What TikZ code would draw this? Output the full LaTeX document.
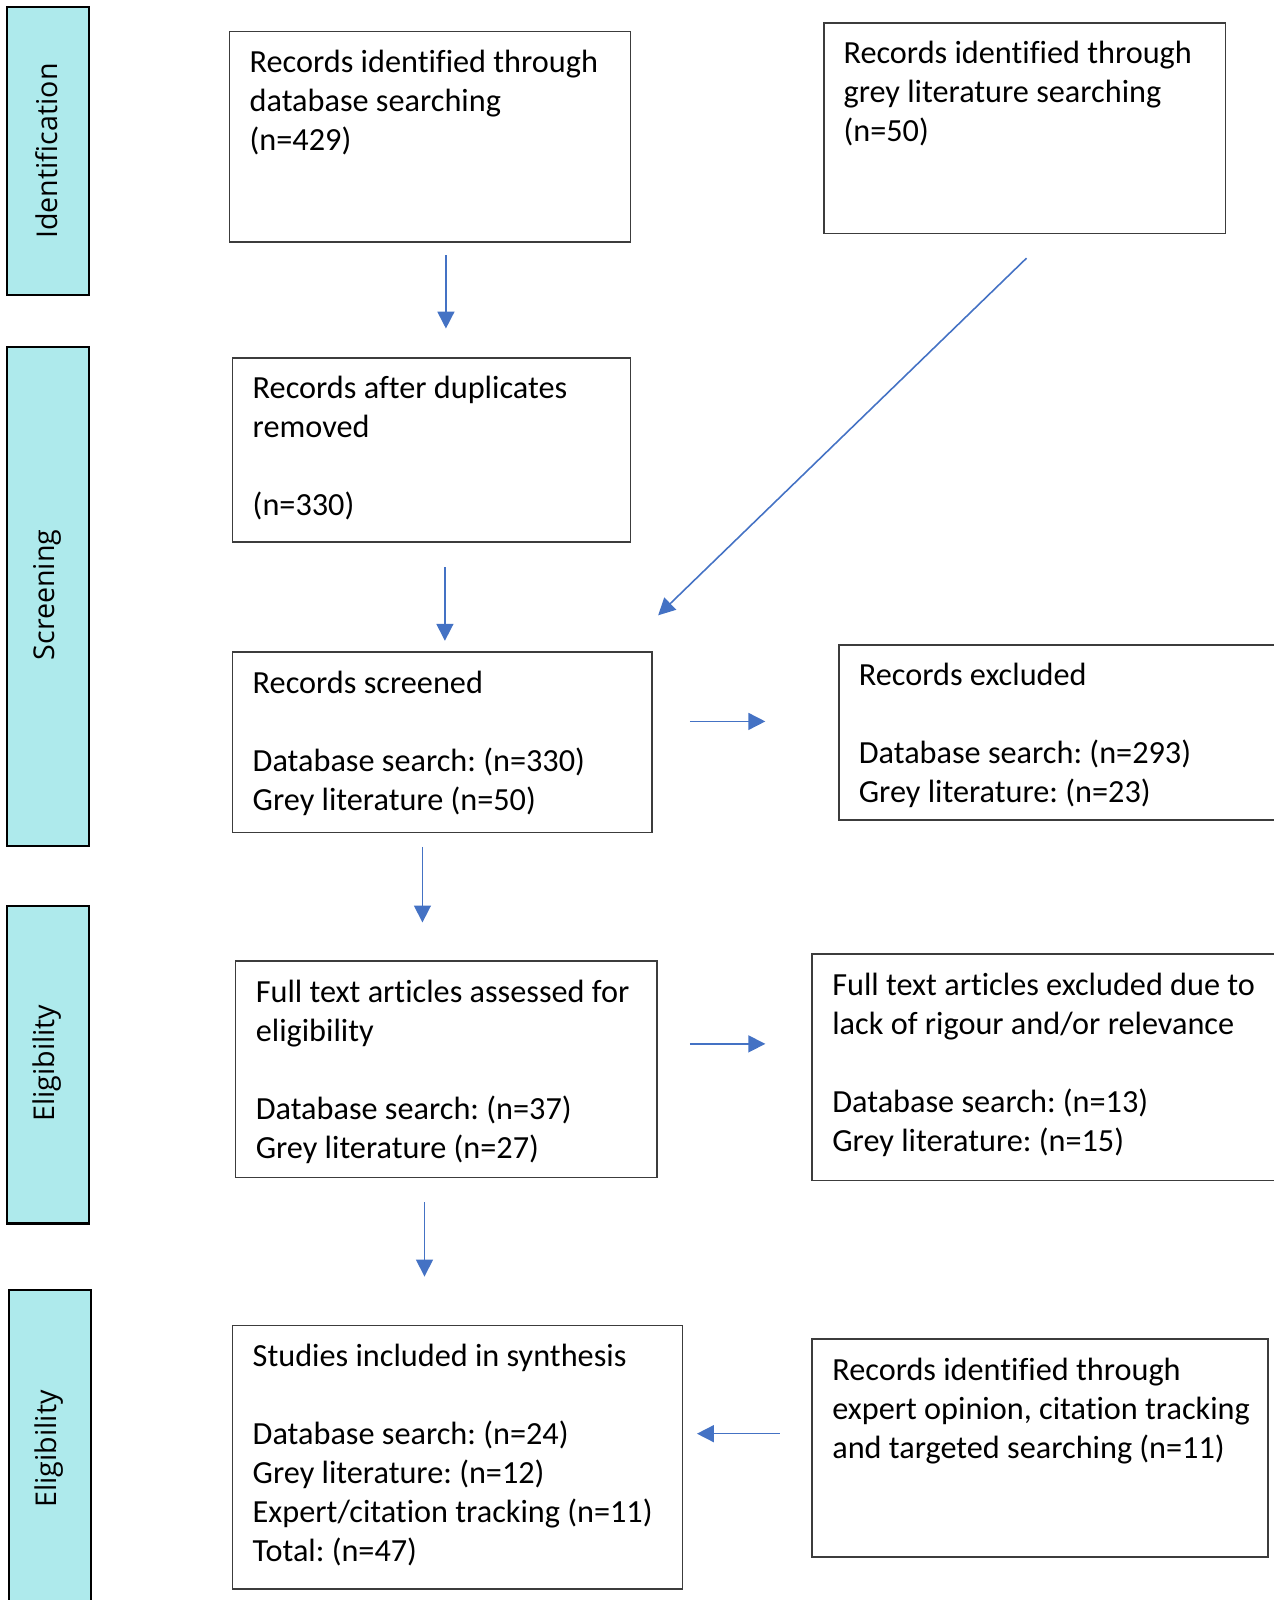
\documentclass[tikz,border=0pt]{standalone}
\usepackage{fontspec}
\setmainfont{Carlito}[Ligatures=CommonOff]
\newfontfamily\stagefont{Open Sans}
\usetikzlibrary{arrows.meta}
\frenchspacing
\definecolor{stagecyan}{RGB}{174,234,236}
\definecolor{flowblue}{RGB}{68,114,196}
\definecolor{boxgrey}{RGB}{60,60,60}
\def\pxu{0.010204cm}
\tikzset{
  stagebar/.style={draw=black, line width=0.6pt, fill=stagecyan, anchor=north west, inner sep=0pt},
  stagetext/.style={rotate=90, font=\stagefont\fontsize{8.15}{9}\selectfont, inner sep=0pt},
  flowbox/.style={draw=boxgrey, line width=0.5pt, anchor=north west, inner sep=0pt},
  boxtext/.style={anchor=north west, inner sep=0pt, align=left, execute at begin node=\strut,
    font=\fontsize{9.18}{11.1}\selectfont},
  flow/.style={draw=flowblue, line width=0.45pt, -{Triangle[width=4.8pt,length=4.8pt]}}
}
\begin{document}
\begin{tikzpicture}[x=\pxu,y=-\pxu]
\useasboundingbox (0,0) rectangle (1248.5,1568);
\clip (0,0) rectangle (1248.5,1568);
% stage bars on the left
\node[stagebar, minimum width=80*\pxu, minimum height=282*\pxu] (ident) at (6,6) {};
\node[stagebar, minimum width=80*\pxu, minimum height=489*\pxu] (screen) at (6,339) {};
\node[stagebar, minimum width=80*\pxu, minimum height=311*\pxu] (elig) at (6,887) {};
\node[stagebar, minimum width=80*\pxu, minimum height=330*\pxu] (incl) at (8,1263) {};
\node[stagetext] (identlab) at (46,148) {Identification};
\node[stagetext] (screenlab) at (46,583) {Screening};
\node[stagetext] (eliglab) at (46,1042) {Eligibility};
\node[stagetext] (incllab) at (48,1420) {Eligibility};
% boxes
\node[flowbox, minimum width=393*\pxu, minimum height=206*\pxu] (db) at (224,30) {};
\node[boxtext] (dbtext) at (244,48) {Records identified through\\database searching\\(n=429)};
\node[flowbox, minimum width=393*\pxu, minimum height=206*\pxu] (grey) at (807,22) {};
\node[boxtext] (greytext) at (826,40) {Records identified through\\grey literature searching\\(n=50)};
\node[flowbox, minimum width=390*\pxu, minimum height=180*\pxu] (dup) at (227,350) {};
\node[boxtext] (duptext) at (247,368) {Records after duplicates\\removed\\[11.1pt](n=330)};
\node[flowbox, minimum width=411*\pxu, minimum height=177*\pxu] (scr) at (227,638) {};
\node[boxtext] (scrtext) at (247,657) {Records screened\\[11.1pt]Database search: (n=330)\\Grey literature (n=50)};
\node[flowbox, minimum width=440*\pxu, minimum height=172*\pxu] (excl) at (821,631) {};
\node[boxtext] (excltext) at (841,649) {Records excluded\\[11.1pt]Database search: (n=293)\\Grey literature: (n=23)};
\node[flowbox, minimum width=413*\pxu, minimum height=212*\pxu] (full) at (230,941) {};
\node[boxtext] (fulltext) at (250,960) {Full text articles assessed for\\eligibility\\[11.1pt]Database search: (n=37)\\Grey literature (n=27)};
\node[flowbox, minimum width=470*\pxu, minimum height=222*\pxu] (fexcl) at (795,934) {};
\node[boxtext] (fexcltext) at (815,953) {Full text articles excluded due to\\lack of rigour and/or relevance\\[11.1pt]Database search: (n=13)\\Grey literature: (n=15)};
\node[flowbox, minimum width=441*\pxu, minimum height=258*\pxu] (synth) at (227,1298) {};
\node[boxtext] (synthtext) at (247,1317) {Studies included in synthesis\\[11.1pt]Database search: (n=24)\\Grey literature: (n=12)\\Expert/citation tracking (n=11)\\Total: (n=47)};
\node[flowbox, minimum width=447*\pxu, minimum height=214*\pxu] (expert) at (795,1311) {};
\node[boxtext] (experttext) at (815,1330) {Records identified through\\expert opinion, citation tracking\\and targeted searching (n=11)};
% arrow ends
\coordinate (a1) at (437,250); \coordinate (b1) at (437,322);
\coordinate (a2) at (436,556); \coordinate (b2) at (436,628);
\coordinate (a3) at (1006,253); \coordinate (b3) at (645,603);
\coordinate (a4) at (676,707); \coordinate (b4) at (750,707);
\coordinate (a5) at (414,830); \coordinate (b5) at (414,904);
\coordinate (a6) at (676,1023); \coordinate (b6) at (750,1023);
\coordinate (a7) at (416,1178); \coordinate (b7) at (416,1251);
\coordinate (a8) at (764,1405); \coordinate (b8) at (683,1405);
\foreach \i in {1,...,8}
  \draw[flow] (a\i) -- (b\i);
\end{tikzpicture}
\end{document}
